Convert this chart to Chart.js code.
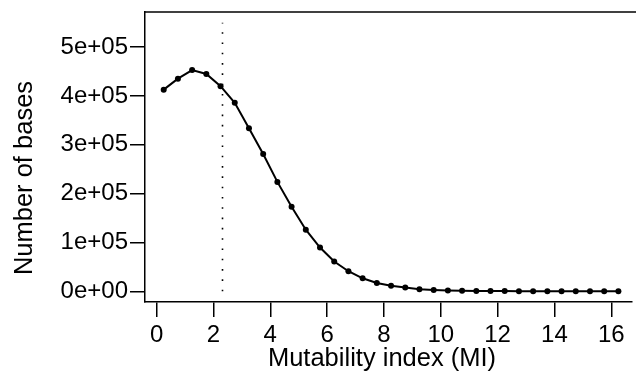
<!DOCTYPE html>
<html>
<head>
<meta charset="utf-8">
<script src="https://cdn.jsdelivr.net/npm/chart.js@4"></script>
<style>
  html, body { margin: 0; padding: 0; background: #fff; }
  #wrap { width: 636px; height: 372px; }
</style>
</head>
<body>
<div id="wrap"><canvas id="miChart"></canvas></div>
<script>
// bin centres of the mutability index
const miBins = [0.25, 0.75, 1.25, 1.75, 2.25, 2.75, 3.25, 3.75, 4.25, 4.75, 5.25,
  5.75, 6.25, 6.75, 7.25, 7.75, 8.25, 8.75, 9.25, 9.75, 10.25, 10.75, 11.25,
  11.75, 12.25, 12.75, 13.25, 13.75, 14.25, 14.75, 15.25, 15.75, 16.25];
// number of bases per bin
const baseCounts = [413000, 435500, 453000, 445000, 420000, 386000, 334000,
  281000, 224000, 173000, 126000, 89500, 61000, 41000, 26500, 17000, 11500,
  7500, 4300, 2800, 1800, 1100, 700, 450, 300, 200, 130, 80, 50, 30, 20, 10, 5];
const xTicks = [0, 2, 4, 6, 8, 10, 12, 14, 16];
const yTicks = [0, 100000, 200000, 300000, 400000, 500000];
// threshold marker (dotted line)
const cutoffMI = 2.29;
const cutoffTop = 550000;

const FONT = '"Liberation Sans", Arial, Helvetica, sans-serif';

const framePlugin = {
  id: 'frame',
  afterDraw(chart) {
    const { ctx, chartArea: a, scales: { x, y } } = chart;
    ctx.save();
    // top edge of the box (right edge falls outside the picture)
    ctx.strokeStyle = '#000';
    ctx.lineWidth = 1.5;
    ctx.beginPath();
    ctx.moveTo(a.left, a.top);
    ctx.lineTo(a.right + 5, a.top);
    ctx.stroke();

    // dotted cutoff line
    const px = Math.round(x.getPixelForValue(cutoffMI)) + 0.5;
    ctx.lineWidth = 1.6;
    ctx.setLineDash([1.6, 8.7]);
    ctx.beginPath();
    ctx.moveTo(px, y.getPixelForValue(0));
    ctx.lineTo(px, y.getPixelForValue(cutoffTop));
    ctx.stroke();
    ctx.setLineDash([]);

    // axis titles
    ctx.fillStyle = '#000';
    ctx.font = '25.5px ' + FONT;
    ctx.textAlign = 'center';
    ctx.textBaseline = 'alphabetic';
    ctx.fillText('Mutability index (MI)', 382, 366);
    ctx.translate(32, 178);
    ctx.rotate(-Math.PI / 2);
    ctx.fillText('Number of bases', 0, 0);
    ctx.restore();
  }
};

new Chart(document.getElementById('miChart').getContext('2d'), {
  type: 'line',
  data: {
    datasets: [{
      data: miBins.map((v, i) => ({ x: v, y: baseCounts[i] })),
      borderColor: '#000',
      backgroundColor: '#000',
      borderWidth: 2,
      pointRadius: 3,
      pointBorderWidth: 0,
      pointBackgroundColor: '#000',
      tension: 0,
      fill: false
    }]
  },
  options: {
    responsive: true,
    maintainAspectRatio: false,
    animation: false,
    layout: { padding: { top: 12, right: 0, left: 0, bottom: 0 } },
    plugins: { legend: { display: false }, tooltip: { enabled: false } },
    scales: {
      x: {
        type: 'linear',
        min: -0.4084,
        max: 16.729,
        afterFit: s => { s.height = 70; s.paddingLeft = 0; s.paddingRight = 0; },
        afterBuildTicks: s => { s.ticks = xTicks.map(v => ({ value: v })); },
        grid: { drawOnChartArea: false, tickLength: 15, color: '#000', lineWidth: 1.5 },
        border: { display: true, color: '#000', width: 1.5 },
        ticks: { color: '#000', font: { family: FONT, size: 24 }, padding: 4,
                 autoSkip: false, maxRotation: 0 }
      },
      y: {
        type: 'linear',
        min: -22000,
        max: 572000,
        afterFit: s => { s.width = 145; s.paddingTop = 0; s.paddingBottom = 0; },
        afterBuildTicks: s => { s.ticks = yTicks.map(v => ({ value: v })); },
        grid: { drawOnChartArea: false, tickLength: 15, color: '#000', lineWidth: 1.5 },
        border: { display: true, color: '#000', width: 1.5 },
        ticks: {
          color: '#000', font: { family: FONT, size: 24 }, padding: 2,
          callback: v => v === 0 ? '0e+00' : (v / 100000) + 'e+05'
        }
      }
    }
  },
  plugins: [framePlugin]
});
</script>
</body>
</html>
